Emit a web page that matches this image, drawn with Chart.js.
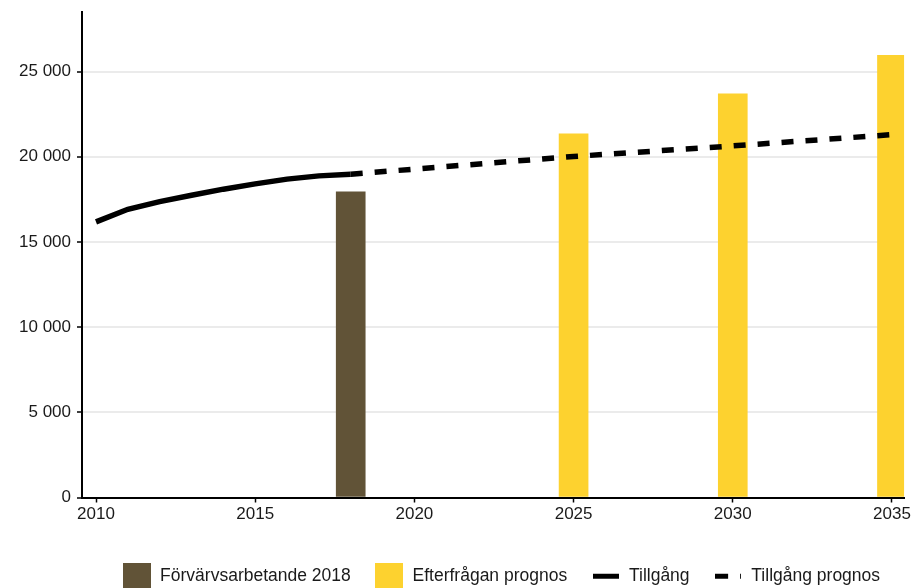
<!DOCTYPE html>
<html>
<head>
<meta charset="utf-8">
<script src="https://cdn.jsdelivr.net/npm/chart.js@4.4.1/dist/chart.umd.min.js"></script>
<style>
html, body { margin: 0; padding: 0; background: #fff; }
#wrap { width: 913px; height: 588px; }
</style>
</head>
<body>
<div id="wrap"><canvas id="canvas1"></canvas></div>
<script>
// Tillgång (solid, historical) and Tillgång prognos (dashed)
const supplyYears = [2010, 2011, 2012, 2013, 2014, 2015, 2016, 2017, 2018];
const supply = [16180, 16920, 17370, 17740, 18100, 18410, 18690, 18880, 18980];
const forecastYears = [2018, 2025, 2030, 2035];
const supplyForecast = [18980, 20020, 20640, 21300];

// bars
const employedYears = [2018];
const employed = [17950];
const demandYears = [2025, 2030, 2035];
const demand = [21350, 23700, 25950];

const xTicks = [2010, 2015, 2020, 2025, 2030, 2035];
const yTicks = [0, 5000, 10000, 15000, 20000, 25000];

const BROWN = '#615337';
const YELLOW = '#fdd22f';
const font = { family: 'Liberation Sans, Arial, sans-serif', size: 17 };
const legendFont = { family: 'Liberation Sans, Arial, sans-serif', size: 17.5 };

const pts = (xs, ys) => xs.map((x, i) => ({ x: x, y: ys[i] }));

function swatch(color, w, h, dash) {
    const c = document.createElement('canvas');
    c.width = w;
    c.height = h;
    const g = c.getContext('2d');
    if (!dash) {
        g.fillStyle = color;
        g.fillRect(0, 0, w, h);
    } else {
        g.strokeStyle = color;
        g.lineWidth = 5;
        g.setLineDash(dash);
        g.beginPath();
        g.moveTo(0, h / 2);
        g.lineTo(w, h / 2);
        g.stroke();
    }
    return c;
}
const swatches = [
    swatch(BROWN, 28, 26),
    swatch(YELLOW, 28, 26),
    swatch('#000', 26, 27, [26, 0]),
    swatch('#000', 26, 27, [13, 12])
];

const fmt = v => String(v).replace(/\B(?=(\d{3})+(?!\d))/g, ' ');

const ctx1 = document.getElementById('canvas1');

new Chart(ctx1, {
    type: 'bar',
    data: {
        datasets: [{
            type: 'bar',
            label: 'Förvärvsarbetande 2018',
            data: pts(employedYears, employed),
            backgroundColor: BROWN,
            barThickness: 29,
            grouped: false,
            order: 2
        },
        {
            type: 'bar',
            label: 'Efterfrågan prognos',
            data: pts(demandYears, demand),
            backgroundColor: YELLOW,
            barThickness: 29,
            grouped: false,
            order: 2
        },
        {
            type: 'line',
            label: 'Tillgång',
            data: pts(supplyYears, supply),
            borderColor: '#000',
            borderWidth: 5.5,
            pointRadius: 0,
            tension: 0,
            order: 1
        },
        {
            type: 'line',
            label: 'Tillgång prognos',
            data: pts(forecastYears, supplyForecast),
            borderColor: '#000',
            borderWidth: 5.5,
            borderDash: [12, 12],
            pointRadius: 0,
            tension: 0,
            order: 1
        }]
    },
    options: {
        responsive: true,
        maintainAspectRatio: false,
        animation: false,
        layout: {
            padding: { top: 12, right: 8, left: 0, bottom: -7 }
        },
        scales: {
            x: {
                type: 'linear',
                min: 2009.56,
                max: 2035.38,
                offset: false,
                afterBuildTicks: s => { s.ticks = xTicks.map(v => ({ value: v })); },
                afterFit: s => { s.height = 46; },
                ticks: {
                    font: font,
                    color: '#1a1a1a',
                    padding: 2,
                    autoSkip: false,
                    maxRotation: 0,
                    callback: v => String(v)
                },
                grid: {
                    offset: false,
                    drawOnChartArea: false,
                    tickLength: 5,
                    tickColor: '#000',
                    tickWidth: 1.5
                },
                border: { color: '#000', width: 2 }
            },
            y: {
                min: 0,
                max: 28500,
                afterBuildTicks: s => { s.ticks = yTicks.map(v => ({ value: v })); },
                afterFit: s => {
                    s.width = 82;
                    s.paddingTop = 0;
                    s.paddingBottom = 0;
                },
                ticks: {
                    font: font,
                    color: '#1a1a1a',
                    padding: 6,
                    callback: v => fmt(v)
                },
                grid: {
                    color: '#ebebeb',
                    lineWidth: 2,
                    tickLength: 5,
                    tickColor: '#000',
                    tickWidth: 1.5
                },
                border: { color: '#000', width: 2 }
            }
        },
        plugins: {
            legend: {
                position: 'bottom',
                fullSize: false,
                align: 'end',
                labels: {
                    font: legendFont,
                    color: '#1a1a1a',
                    usePointStyle: true,
                    pointStyleWidth: 29,
                    padding: 24,
                    sort: (a, b) => a.datasetIndex - b.datasetIndex,
                    generateLabels: chart => {
                        const items = Chart.defaults.plugins.legend.labels.generateLabels(chart);
                        items.forEach(it => { it.pointStyle = swatches[it.datasetIndex]; });
                        return items;
                    }
                }
            },
            tooltip: { enabled: false }
        }
    }
});
</script>
</body>
</html>
